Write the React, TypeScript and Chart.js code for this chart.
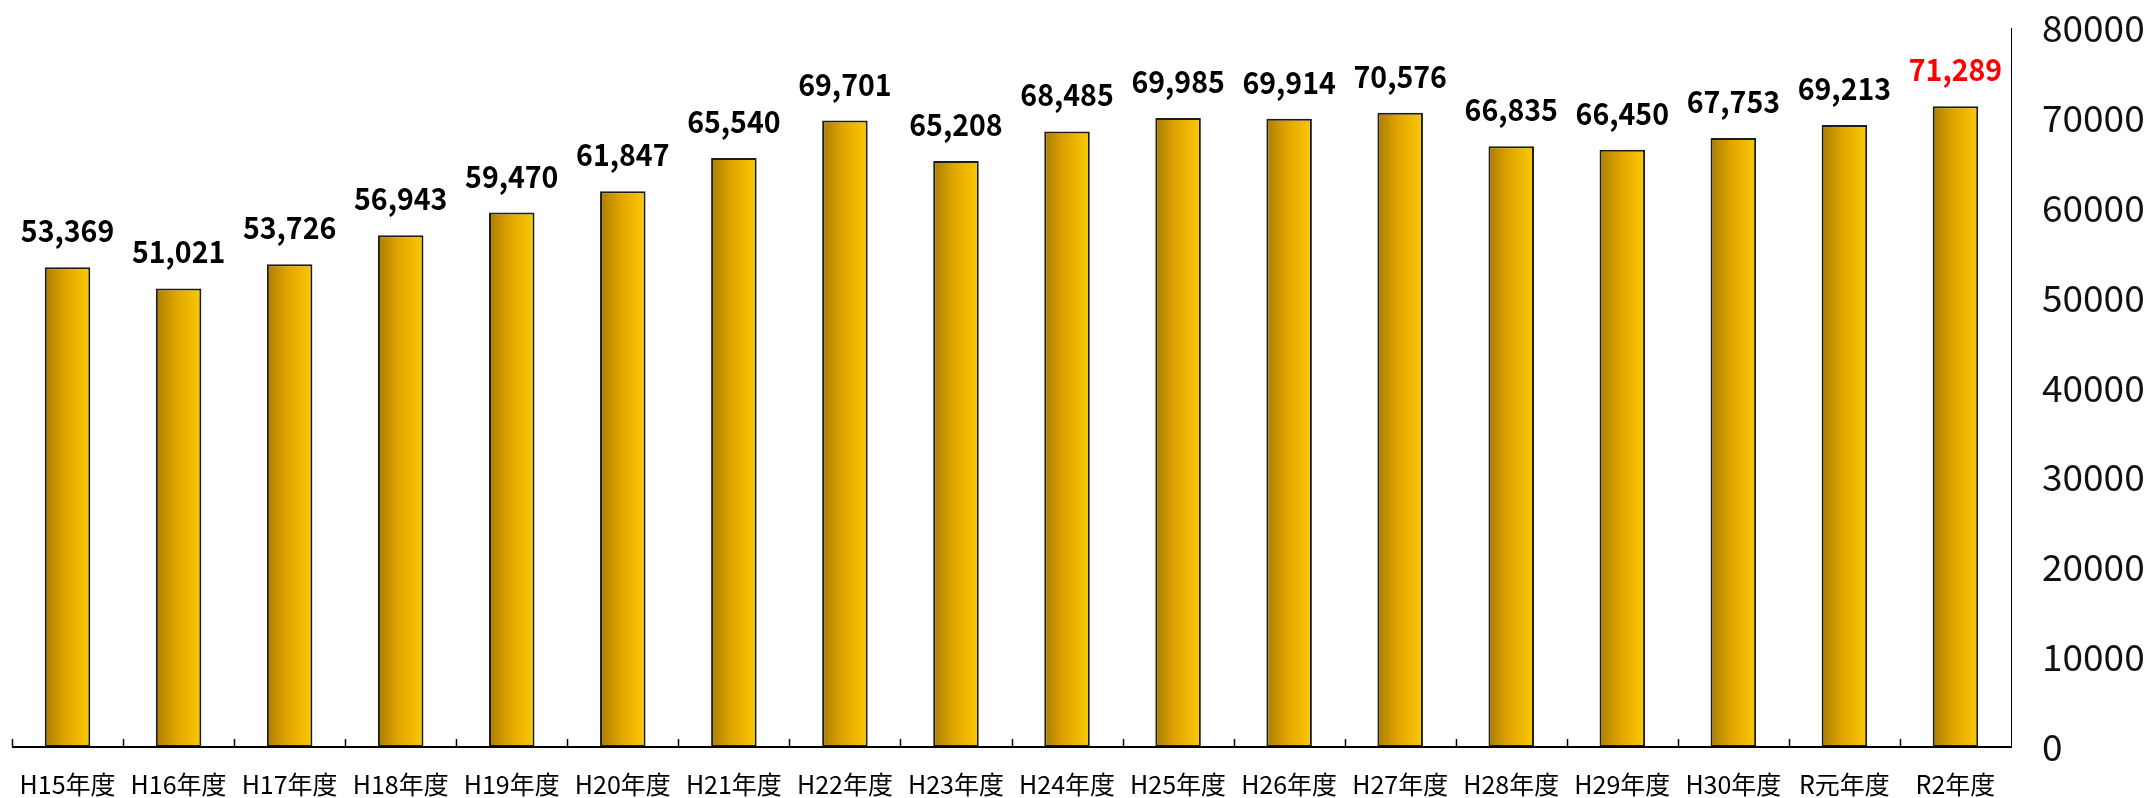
import React, { useEffect, useRef } from "react";
import { Chart, registerables } from "chart.js";

Chart.register(...registerables);

const categories = [
  "H15年度", "H16年度", "H17年度", "H18年度", "H19年度", "H20年度",
  "H21年度", "H22年度", "H23年度", "H24年度", "H25年度", "H26年度",
  "H27年度", "H28年度", "H29年度", "H30年度", "R元年度", "R2年度",
];

const values = [
  53369, 51021, 53726, 56943, 59470, 61847, 65540, 69701, 65208,
  68485, 69985, 69914, 70576, 66835, 66450, 67753, 69213, 71289,
];

const labelColors = [
  "#000", "#000", "#000", "#000", "#000", "#000", "#000", "#000", "#000",
  "#000", "#000", "#000", "#000", "#000", "#000", "#000", "#000", "#ff0000",
];

const yMin = 0;
const yMax = 80000;
const yStep = 10000;

const W = 2152;
const H = 798;
const BAR_PCT = 0.41;

function barGradient(c: any) {
  const chart = c.chart;
  const xs = chart.scales && chart.scales.x;
  if (!xs || c.dataIndex === undefined) return "#e0a500";
  const cx = xs.getPixelForValue(c.dataIndex);
  const half = ((xs.getPixelForValue(1) - xs.getPixelForValue(0)) * BAR_PCT) / 2;
  if (!isFinite(cx) || !isFinite(half) || half <= 0) return "#e0a500";
  const g = chart.ctx.createLinearGradient(cx - half, 0, cx + half, 0);
  g.addColorStop(0, "#a97d00");
  g.addColorStop(0.45, "#e0a500");
  g.addColorStop(1, "#fbc900");
  return g;
}

const decorPlugin = {
  id: "decor",
  afterDatasetsDraw(chart: any) {
    const ctx = chart.ctx;
    const xs = chart.scales.x;
    const area = chart.chartArea;
    const half = (xs.getPixelForValue(1) - xs.getPixelForValue(0)) / 2;
    ctx.save();
    ctx.strokeStyle = "#000";
    ctx.lineWidth = 1.5;
    for (let i = 0; i < categories.length; i++) {
      const x = Math.round(xs.getPixelForValue(i) - half) + 0.5;
      ctx.beginPath();
      ctx.moveTo(x, area.bottom);
      ctx.lineTo(x, area.bottom - 8);
      ctx.stroke();
    }
    ctx.lineWidth = 2;
    ctx.beginPath();
    ctx.moveTo(area.left, area.bottom);
    ctx.lineTo(area.right, area.bottom);
    ctx.stroke();
    const meta = chart.getDatasetMeta(0);
    ctx.font = "bold 31px 'Noto Sans CJK JP', 'Liberation Sans', sans-serif";
    ctx.textAlign = "center";
    ctx.textBaseline = "alphabetic";
    meta.data.forEach((el: any, i: number) => {
      ctx.save();
      ctx.translate(el.x, el.y - 25);
      ctx.scale(0.92, 1);
      ctx.fillStyle = labelColors[i];
      ctx.fillText(values[i].toLocaleString("en-US"), 0, 0);
      ctx.restore();
    });
    ctx.restore();
  },
};

export default function App() {
  const ref = useRef<HTMLCanvasElement>(null);
  useEffect(() => {
    if (!ref.current) return;
    const chart = new Chart(ref.current, {
      type: "bar",
      data: {
        labels: categories,
        datasets: [
          {
            data: values,
            backgroundColor: barGradient,
            borderColor: "#1c1c1c",
            borderWidth: 2,
            borderSkipped: false,
            barPercentage: BAR_PCT,
            categoryPercentage: 1,
          },
        ],
      },
      options: {
        responsive: false,
        animation: false,
        devicePixelRatio: 1,
        layout: { padding: { left: 12, top: 28, right: 0, bottom: 0 } },
        plugins: { legend: { display: false }, tooltip: { enabled: false } },
        scales: {
          x: {
            offset: true,
            grid: { display: false, drawTicks: false },
            border: { display: false },
            ticks: {
              color: "#000",
              padding: 22,
              maxRotation: 0,
              autoSkip: false,
              font: { family: "'Noto Sans CJK JP', sans-serif", size: 25 },
            },
            afterFit(scale: any) {
              scale.height = 51;
              scale.paddingLeft = 0;
              scale.paddingRight = 0;
            },
          },
          y: {
            position: "right",
            min: yMin,
            max: yMax,
            grid: { display: false, drawTicks: false },
            border: { display: true, color: "#000", width: 1 },
            ticks: {
              stepSize: yStep,
              color: "#111",
              padding: 31,
              font: { family: "'Noto Sans CJK JP', sans-serif", size: 37 },
              callback: (v: any) => String(v),
            },
            afterFit(scale: any) {
              scale.width = 141;
              scale.paddingTop = 0;
              scale.paddingBottom = 0;
            },
          },
        },
      },
      plugins: [decorPlugin],
    });
    return () => chart.destroy();
  }, []);
  return (
    <div style={{ position: "fixed", left: 0, top: 0, width: W, height: H, background: "#fff" }}>
      <canvas ref={ref} width={W} height={H} style={{ width: W, height: H }} />
    </div>
  );
}
